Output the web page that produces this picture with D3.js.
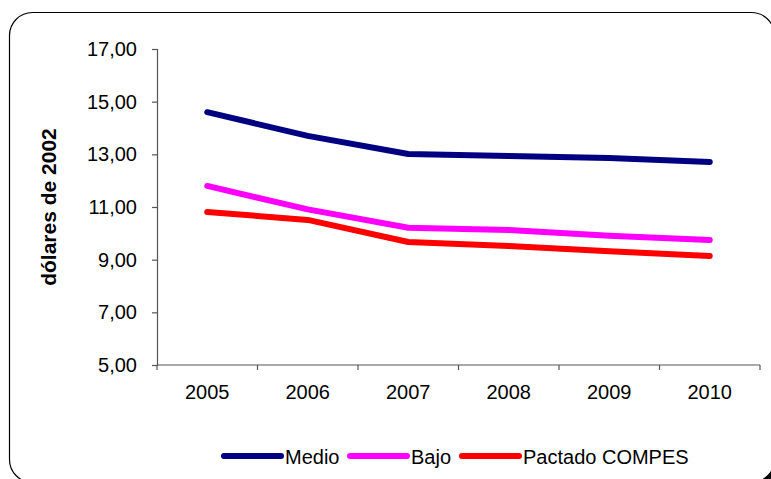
<!DOCTYPE html>
<html>
<head>
<meta charset="utf-8">
<script src="https://cdn.jsdelivr.net/npm/d3@7"></script>
<style>
  html, body { margin: 0; padding: 0; background: #fff; }
  svg { display: block; }
  text { font-family: "Liberation Sans", Arial, sans-serif; fill: #000; }
</style>
</head>
<body>
<svg id="chart" width="771" height="479"></svg>
<script>
// Years on the horizontal axis
const years = ["2005", "2006", "2007", "2008", "2009", "2010"];
// Price projections, in 2002 dollars
const medio = [14.60, 13.70, 13.01, 12.94, 12.86, 12.71];
const bajo = [11.80, 10.91, 10.21, 10.13, 9.91, 9.75];
const pactado = [10.81, 10.51, 9.67, 9.52, 9.32, 9.14];
const seriesNames = ["Medio", "Bajo", "Pactado COMPES"];
const seriesColors = ["#000080", "#ff00ff", "#ff0000"];
const yTicks = [5, 7, 9, 11, 13, 15, 17];
const yTitle = "dólares de 2002";

const series = [medio, bajo, pactado].map((vals, i) => ({
  name: seriesNames[i], color: seriesColors[i], values: vals
}));

const svg = d3.select("#chart");
const fontFamily = "'Liberation Sans', Arial, sans-serif";

// Frame with a small drop shadow
svg.append("rect")
  .attr("x", 12.5).attr("y", 15.5).attr("width", 765).attr("height", 470)
  .attr("rx", 23).attr("ry", 23).attr("fill", "#000");
svg.append("rect")
  .attr("x", 9.5).attr("y", 12.5).attr("width", 765).attr("height", 470)
  .attr("rx", 23).attr("ry", 23).attr("fill", "#fff")
  .attr("stroke", "#000").attr("stroke-width", 1.2);

const plotLeft = 157, plotRight = 760, plotTop = 49, plotBottom = 365;

const x = d3.scaleBand().domain(years).range([plotLeft, plotRight]).paddingInner(0).paddingOuter(0);
const y = d3.scaleLinear().domain([5, 17]).range([plotBottom, plotTop]);

const locale = d3.formatLocale({ decimal: ",", thousands: ".", grouping: [3], currency: ["$", ""] });
const fmt = locale.format(".2f");

// Y axis
const yAxis = svg.append("g")
  .attr("transform", `translate(${plotLeft},0)`)
  .call(d3.axisLeft(y).tickValues(yTicks).tickFormat(fmt).tickSize(5).tickPadding(15));
yAxis.select(".domain").attr("stroke", "#555").attr("stroke-width", 1.2);
yAxis.selectAll(".tick line").attr("stroke", "#555").attr("stroke-width", 1.2);
yAxis.selectAll(".tick text").attr("font-size", 20).attr("font-family", fontFamily).attr("fill", "#000");

// X axis: labels centred in each category, ticks at category boundaries
const xAxis = svg.append("g")
  .attr("transform", `translate(0,${plotBottom})`)
  .call(d3.axisBottom(x).tickSize(0).tickPadding(20));
xAxis.select(".domain").attr("stroke", "#555").attr("stroke-width", 1.2)
  .attr("d", `M${plotLeft},0H${plotRight}`);
xAxis.selectAll(".tick text").attr("font-size", 20).attr("font-family", fontFamily).attr("fill", "#000");

const edges = years.map(d => x(d)).concat([x(years[years.length - 1]) + x.bandwidth()]);
xAxis.selectAll(".edge").data(edges).enter().append("line")
  .attr("class", "edge")
  .attr("x1", d => d).attr("x2", d => d)
  .attr("y1", 0).attr("y2", 5)
  .attr("stroke", "#555").attr("stroke-width", 1.2);

// Y axis title
svg.append("text")
  .attr("transform", `translate(56,${(plotTop + plotBottom) / 2}) rotate(-90)`)
  .attr("text-anchor", "middle")
  .attr("font-size", 21).attr("font-weight", "bold")
  .attr("font-family", fontFamily)
  .text(yTitle);

// Lines
const line = d3.line()
  .x((d, i) => x(years[i]) + x.bandwidth() / 2)
  .y(d => y(d));

svg.append("g").selectAll("path").data(series).enter().append("path")
  .attr("d", d => line(d.values))
  .attr("fill", "none")
  .attr("stroke", d => d.color)
  .attr("stroke-width", 6)
  .attr("stroke-linecap", "round")
  .attr("stroke-linejoin", "round");

// Legend
const legendY = 456;
const legendStarts = [224, 350, 462];
const legend = svg.append("g").selectAll("g").data(series).enter().append("g")
  .attr("transform", (d, i) => `translate(${legendStarts[i]},${legendY})`);
legend.append("line")
  .attr("x1", 0).attr("x2", 57).attr("y1", 0).attr("y2", 0)
  .attr("stroke", d => d.color).attr("stroke-width", 6).attr("stroke-linecap", "round");
legend.append("text")
  .attr("x", 61).attr("y", 7.5)
  .attr("font-size", 20)
  .attr("font-family", fontFamily)
  .text(d => d.name);
</script>
</body>
</html>
